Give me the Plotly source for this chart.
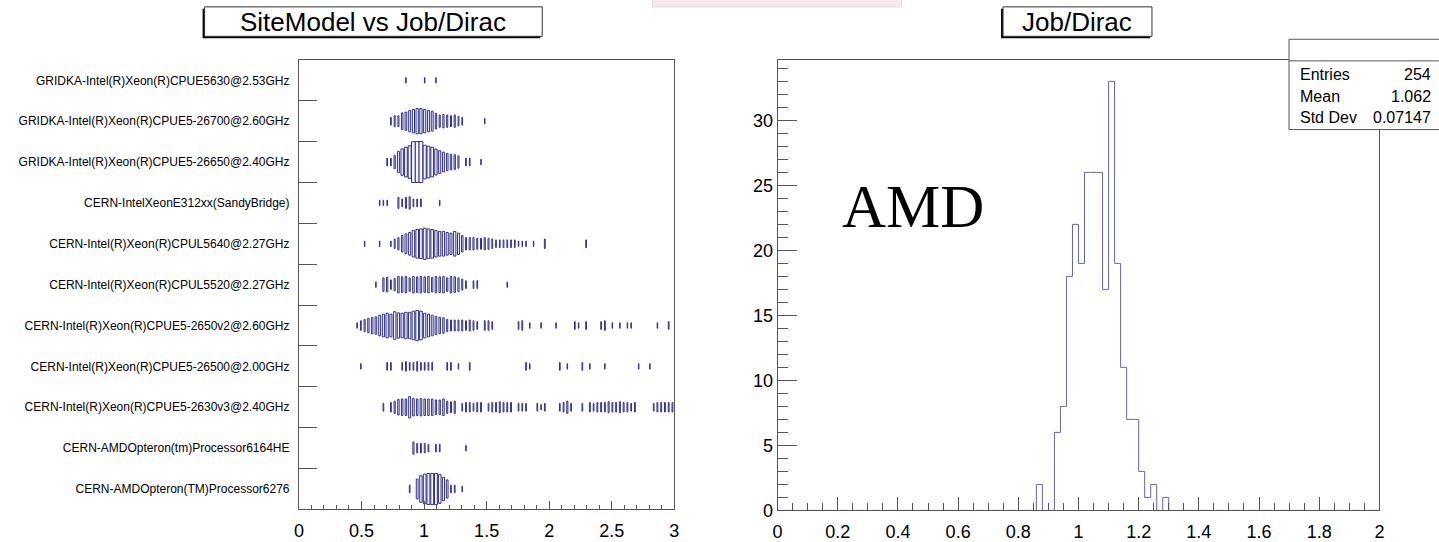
import numpy as np
import plotly.graph_objects as go

W, H = 1439, 542


def px(x):
    return x / W


def py(y):
    return 1 - y / H


# ---------------- data: left panel (SiteModel vs Job/Dirac, 2D box histogram) -------------
site_models = [
    "GRIDKA-Intel(R)Xeon(R)CPUE5630@2.53GHz",
    "GRIDKA-Intel(R)Xeon(R)CPUE5-26700@2.60GHz",
    "GRIDKA-Intel(R)Xeon(R)CPUE5-26650@2.40GHz",
    "CERN-IntelXeonE312xx(SandyBridge)",
    "CERN-Intel(R)Xeon(R)CPUL5640@2.27GHz",
    "CERN-Intel(R)Xeon(R)CPUL5520@2.27GHz",
    "CERN-Intel(R)Xeon(R)CPUE5-2650v2@2.60GHz",
    "CERN-Intel(R)Xeon(R)CPUE5-26500@2.00GHz",
    "CERN-Intel(R)Xeon(R)CPUE5-2630v3@2.40GHz",
    "CERN-AMDOpteron(tm)Processor6164HE",
    "CERN-AMDOpteron(TM)Processor6276",
]

# Job/Dirac axis binning of the 2D histogram: 100 bins on [0, 3]
ratio_min, ratio_max, ratio_nbins = 0.0, 3.0, 100

# bin index -> entries, one dict per site model (top to bottom)
row_gridka_e5630 = {28: 1, 33: 1, 36: 1}
row_gridka_e526700 = {24: 2, 25: 4, 26: 4, 27: 9, 28: 11, 29: 15, 30: 18, 31: 21, 32: 21, 33: 18,
                      34: 15, 35: 13, 36: 8, 37: 5, 38: 6, 39: 5, 40: 4, 41: 5, 42: 3, 43: 2, 49: 1}
row_gridka_e526650 = {23: 2, 24: 2, 25: 6, 26: 15, 27: 23, 28: 29, 29: 35, 30: 55, 31: 55, 32: 55,
                      33: 37, 34: 33, 35: 29, 36: 22, 37: 17, 38: 13, 39: 10, 40: 8, 41: 7, 42: 5,
                      44: 2, 45: 2, 48: 1}
row_cern_e312xx = {21: 1, 22: 1, 23: 1, 26: 4, 27: 2, 28: 4, 29: 5, 30: 2, 31: 2, 32: 2, 37: 1}
row_cern_l5640 = {17: 1, 21: 1, 24: 1, 25: 3, 26: 5, 27: 9, 28: 13, 29: 17, 30: 23, 31: 27, 32: 29,
                  33: 32, 34: 29, 35: 27, 36: 23, 37: 20, 38: 20, 39: 17, 40: 15, 41: 20, 42: 15,
                  43: 9, 44: 5, 45: 5, 46: 5, 47: 4, 48: 4, 49: 5, 50: 4, 51: 3, 52: 2, 53: 2,
                  54: 2, 55: 2, 56: 2, 57: 2, 58: 1, 59: 1, 60: 1, 62: 1, 65: 3, 76: 2}
row_cern_l5520 = {20: 1, 22: 6, 23: 7, 24: 3, 25: 5, 26: 9, 27: 8, 28: 9, 29: 6, 30: 9, 31: 8,
                  32: 9, 33: 8, 34: 9, 35: 7, 36: 9, 37: 8, 38: 9, 39: 6, 40: 9, 41: 8, 42: 6,
                  43: 4, 44: 2, 46: 2, 47: 2, 55: 1}
row_cern_e52650v2 = {15: 1, 16: 3, 17: 5, 18: 7, 19: 9, 20: 10, 21: 14, 22: 17, 23: 20, 24: 17,
                     25: 25, 26: 21, 27: 20, 28: 23, 29: 23, 30: 27, 31: 30, 32: 27, 33: 20,
                     34: 17, 35: 14, 36: 11, 37: 9, 38: 8, 39: 5, 40: 4, 41: 4, 42: 4, 43: 4,
                     44: 3, 45: 4, 46: 3, 47: 2, 49: 3, 50: 3, 51: 2, 58: 2, 59: 3, 61: 1, 64: 1,
                     68: 1, 73: 2, 74: 1, 76: 2, 80: 2, 81: 3, 83: 1, 85: 1, 87: 1, 88: 1, 95: 1,
                     98: 2}
row_cern_e526500 = {16: 1, 23: 2, 24: 2, 27: 2, 28: 3, 29: 2, 30: 2, 31: 3, 32: 2, 33: 2, 34: 2,
                    35: 2, 39: 2, 40: 2, 42: 1, 45: 2, 60: 2, 61: 1, 69: 2, 71: 1, 75: 2, 77: 1,
                    81: 1, 90: 1, 93: 1}
row_cern_e52630v3 = {22: 2, 24: 3, 25: 5, 26: 8, 27: 9, 28: 9, 29: 15, 30: 10, 31: 9, 32: 10,
                     33: 9, 34: 9, 35: 9, 36: 7, 37: 7, 38: 9, 39: 5, 40: 4, 41: 5, 43: 2, 44: 3,
                     45: 3, 46: 2, 47: 3, 48: 3, 50: 2, 51: 3, 52: 3, 53: 4, 54: 3, 55: 3, 56: 3,
                     58: 2, 59: 2, 60: 2, 63: 2, 64: 1, 65: 2, 69: 2, 70: 3, 71: 5, 72: 2, 75: 2,
                     77: 3, 78: 2, 79: 3, 80: 3, 81: 3, 82: 4, 83: 3, 84: 3, 85: 4, 86: 3, 87: 3,
                     88: 2, 89: 3, 94: 2, 95: 3, 96: 3, 97: 3, 98: 3, 99: 3}
row_cern_amd6164he = {30: 5, 31: 3, 32: 3, 33: 3, 34: 2, 36: 2, 37: 2, 44: 1}
row_cern_amd6276 = {29: 2, 31: 13, 32: 23, 33: 29, 34: 32, 35: 32, 36: 32, 37: 27, 38: 18,
                    39: 11, 40: 2, 41: 2, 43: 1}

site_rows = [row_gridka_e5630, row_gridka_e526700, row_gridka_e526650, row_cern_e312xx,
             row_cern_l5640, row_cern_l5520, row_cern_e52650v2, row_cern_e526500,
             row_cern_e52630v3, row_cern_amd6164he, row_cern_amd6276]

left_x_ticks = [0, 0.5, 1, 1.5, 2, 2.5, 3]
left_x_ticktext = ["0", "0.5", "1", "1.5", "2", "2.5", "3"]

# ---------------- data: right panel (Job/Dirac for AMD, 1D histogram) -------------
amd_min, amd_max, amd_nbins = 0.0, 2.0, 100
amd_counts = {43: 2, 46: 6, 47: 8, 48: 18, 49: 22, 50: 19, 51: 26, 52: 26, 53: 26, 54: 17,
              55: 33, 56: 19, 57: 11, 58: 7, 59: 7, 60: 3, 61: 1, 62: 2, 64: 1}
stat_labels = ["Entries", "Mean", "Std Dev"]
stat_values = ["254", "1.062", "0.07147"]

# ---------------- build figure -------------
FONT = "Liberation Sans, Arial, Helvetica, sans-serif"
BOX_COL = "#30308a"
HIST_COL = "#6464ac"
AX_COL = "#555555"

fig = go.Figure()

# left: boxes (area proportional to content, as ROOT's BOX option)
n_rows = len(site_models)
bw = (ratio_max - ratio_min) / ratio_nbins
cmax = max(max(r.values()) for r in site_rows)
bx, bh, bbase, bwid = [], [], [], []
for i, row in enumerate(site_rows):
    yc = n_rows - i - 0.5
    for k, c in row.items():
        if c <= 0:
            continue
        s = np.sqrt(c / cmax)
        bx.append(ratio_min + (k + 0.5) * bw)
        bh.append(s)
        bbase.append(yc - s / 2)
        bwid.append(s * bw)

fig.add_trace(go.Bar(
    x=bx, y=bh, base=bbase, width=bwid,
    marker=dict(color="#f6f6fc", line=dict(color=BOX_COL, width=1)),
    xaxis="x", yaxis="y", hoverinfo="skip", showlegend=False,
))

# right: step histogram
hw = (amd_max - amd_min) / amd_nbins
edges = [amd_min + j * hw for j in range(amd_nbins + 1)]
vals = [amd_counts.get(j, 0) for j in range(amd_nbins)]
fig.add_trace(go.Scatter(
    x=edges, y=vals + [vals[-1]], mode="lines",
    line=dict(shape="hv", color=HIST_COL, width=1),
    xaxis="x2", yaxis="y2", hoverinfo="skip", showlegend=False,
))
amd_ymax = max(vals) * 1.05

tick_font = dict(family=FONT, size=18, color="black")

fig.update_layout(
    width=W, height=H, autosize=False,
    margin=dict(l=0, r=0, t=0, b=0, pad=0),
    paper_bgcolor="white", plot_bgcolor="white",
    bargap=0.2, barmode="overlay", showlegend=False, hovermode=False,
    xaxis=dict(
        domain=[px(296), px(674)], range=[ratio_min, ratio_max], anchor="y",
        tickmode="array", tickvals=left_x_ticks, ticktext=left_x_ticktext,
        ticks="inside", ticklen=8, tickwidth=1, tickcolor=AX_COL,
        minor=dict(dtick=0.1, tick0=0, ticks="inside", ticklen=4, tickcolor=AX_COL, tickwidth=1),
        showline=True, linecolor=AX_COL, linewidth=1, mirror=True,
        showgrid=False, zeroline=False, tickfont=tick_font, ticklabelstandoff=5,
    ),
    yaxis=dict(
        domain=[py(519), py(61)], range=[0, n_rows], anchor="x",
        tickmode="array",
        tickvals=[n_rows - i - 0.5 for i in range(n_rows)],
        ticktext=site_models,
        ticks="inside", ticklen=0, tickcolor=AX_COL,
        minor=dict(tickmode="array", tickvals=list(range(1, n_rows)), ticks="inside",
                   ticklen=18, tickcolor=AX_COL, tickwidth=1),
        showline=True, linecolor=AX_COL, linewidth=1, mirror=True,
        showgrid=False, zeroline=False,
        tickfont=dict(family=FONT, size=12, color="black"),
        ticklabelstandoff=6,
    ),
    xaxis2=dict(
        domain=[px(778), px(1384)], range=[amd_min, amd_max], anchor="y2",
        dtick=0.2, tick0=0,
        ticks="inside", ticklen=13, tickwidth=1, tickcolor=AX_COL,
        minor=dict(dtick=0.05, tick0=0, ticks="inside", ticklen=7, tickcolor=AX_COL, tickwidth=1),
        showline=True, linecolor=AX_COL, linewidth=1, mirror=True,
        showgrid=False, zeroline=False, tickfont=tick_font, ticklabelstandoff=5,
    ),
    yaxis2=dict(
        domain=[py(520), py(61)], range=[0, amd_ymax], anchor="x2",
        dtick=5, tick0=0,
        ticks="inside", ticklen=19, tickwidth=1, tickcolor=AX_COL,
        minor=dict(dtick=1, tick0=0, ticks="inside", ticklen=10, tickcolor=AX_COL, tickwidth=1),
        showline=True, linecolor=AX_COL, linewidth=1, mirror=True,
        showgrid=False, zeroline=False, tickfont=tick_font,
    ),
)

shapes = []
annotations = []


def title_box(x0, x1, y0, y1, text):
    # shadow (ROOT pave border) then the box
    shapes.append(dict(type="rect", xref="paper", yref="paper",
                       x0=px(x0 - 2), x1=px(x1 - 2), y0=py(y1 + 2), y1=py(y0 + 2),
                       fillcolor="black", line=dict(width=0), layer="above"))
    shapes.append(dict(type="rect", xref="paper", yref="paper",
                       x0=px(x0), x1=px(x1), y0=py(y1), y1=py(y0),
                       fillcolor="white", line=dict(color="#333333", width=1), layer="above"))
    annotations.append(dict(xref="paper", yref="paper", x=px((x0 + x1) / 2), y=py((y0 + y1) / 2),
                            text=text, showarrow=False, xanchor="center", yanchor="middle",
                            font=dict(family=FONT, size=26, color="black")))


# faint artefact band at the very top
shapes.append(dict(type="rect", xref="paper", yref="paper", x0=px(652), x1=px(903),
                   y0=py(7), y1=py(-3), fillcolor="#fbe8ee", line=dict(color="#dcdcdc", width=1),
                   layer="above"))

title_box(201, 541, 7, 37, "SiteModel vs Job/Dirac")
title_box(1005, 1155, 7, 37, "Job/Dirac")

# stats box
shapes.append(dict(type="rect", xref="paper", yref="paper", x0=px(1293), x1=px(1450),
                   y0=py(132), y1=py(40), fillcolor="white",
                   line=dict(color=AX_COL, width=1), layer="above"))
shapes.append(dict(type="line", xref="paper", yref="paper", x0=px(1293), x1=px(1450),
                   y0=py(62), y1=py(62), line=dict(color=AX_COL, width=1), layer="above"))
stat_rows_y = [76, 98, 119.5]
for lab, val, yy in zip(stat_labels, stat_values, stat_rows_y):
    annotations.append(dict(xref="paper", yref="paper", x=px(1302), y=py(yy), text=lab,
                            showarrow=False, xanchor="left", yanchor="middle",
                            font=dict(family=FONT, size=16, color="black")))
    annotations.append(dict(xref="paper", yref="paper", x=px(1438), y=py(yy), text=val,
                            showarrow=False, xanchor="right", yanchor="middle",
                            font=dict(family=FONT, size=16, color="black")))

# AMD label
annotations.append(dict(xref="paper", yref="paper", x=px(841), y=py(210), text="AMD",
                        showarrow=False, xanchor="left", yanchor="middle",
                        font=dict(family="Liberation Serif, Times New Roman, serif", size=61,
                                  color="black")))

fig.update_layout(shapes=shapes, annotations=annotations)

fig.write_html("out.html", config={"displayModeBar": False})
